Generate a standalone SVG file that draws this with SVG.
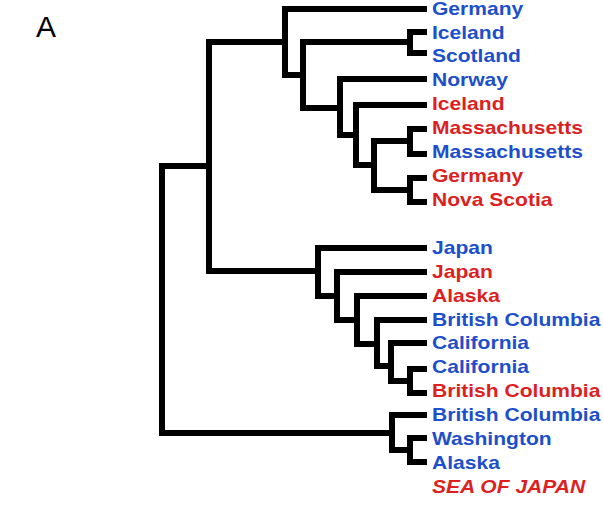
<svg xmlns="http://www.w3.org/2000/svg" width="603" height="506" viewBox="0 0 603 506">
<style>
.c{fill:none;stroke:#000;stroke-width:6;stroke-linejoin:miter;stroke-linecap:butt}
.t{font-family:"Liberation Sans",Arial,sans-serif;font-weight:bold;font-size:18px}
.b{fill:#1d4fcc}
.r{fill:#dd1f1f}
</style>
<rect width="603" height="506" fill="#fff"/>
<text x="36" y="37" font-family="Liberation Sans, Arial, sans-serif" font-size="30" fill="#000">A</text>
<g id="connectors" class="c">
<path d="M209 166 H162 V433 H392"/>
<path d="M285 42 H209 V271 H318"/>
<path d="M427 9 H285 V75 H303"/>
<path d="M410 42 H303 V108 H340"/>
<path d="M427 32 H410 V53 H427"/>
<path d="M427 79 H340 V135 H356"/>
<path d="M427 105 H356 V165 H374"/>
<path d="M410 141 H374 V190 H410"/>
<path d="M427 129 H410 V154 H427"/>
<path d="M427 178 H410 V202 H427"/>
<path d="M427 248 H318 V296 H337"/>
<path d="M427 272 H337 V320 H357"/>
<path d="M427 296 H357 V344 H377"/>
<path d="M427 320 H377 V366 H391"/>
<path d="M427 343 H391 V381 H410"/>
<path d="M427 369 H410 V393 H427"/>
<path d="M427 415 H392 V450 H410"/>
<path d="M427 438 H410 V462 H427"/>
</g>
<g class="t" transform="translate(432 0) scale(1.17 1)">
<g id="n1"><text class="b" y="15">Germany</text></g>
<g id="n2"><text class="b" y="39">Iceland</text></g>
<g id="n3"><text class="b" y="62">Scotland</text></g>
<g id="n4"><text class="b" y="86">Norway</text></g>
<g id="n5"><text class="r" y="110">Iceland</text></g>
<g id="n6"><text class="r" y="134">Massachusetts</text></g>
<g id="n7"><text class="b" y="158">Massachusetts</text></g>
<g id="n8"><text class="r" y="182">Germany</text></g>
<g id="n9"><text class="r" y="206">Nova Scotia</text></g>
<g id="n10"><text class="b" y="254">Japan</text></g>
<g id="n11"><text class="r" y="278">Japan</text></g>
<g id="n12"><text class="r" y="302">Alaska</text></g>
<g id="n13"><text class="b" y="326">British Columbia</text></g>
<g id="n14"><text class="b" y="349">California</text></g>
<g id="n15"><text class="b" y="373">California</text></g>
<g id="n16"><text class="r" y="397">British Columbia</text></g>
<g id="n17"><text class="b" y="421">British Columbia</text></g>
<g id="n18"><text class="b" y="445">Washington</text></g>
<g id="n19"><text class="b" y="469">Alaska</text></g>
<g id="n20"><text class="r" y="493" font-style="italic">SEA OF JAPAN</text></g>
</g>
</svg>
